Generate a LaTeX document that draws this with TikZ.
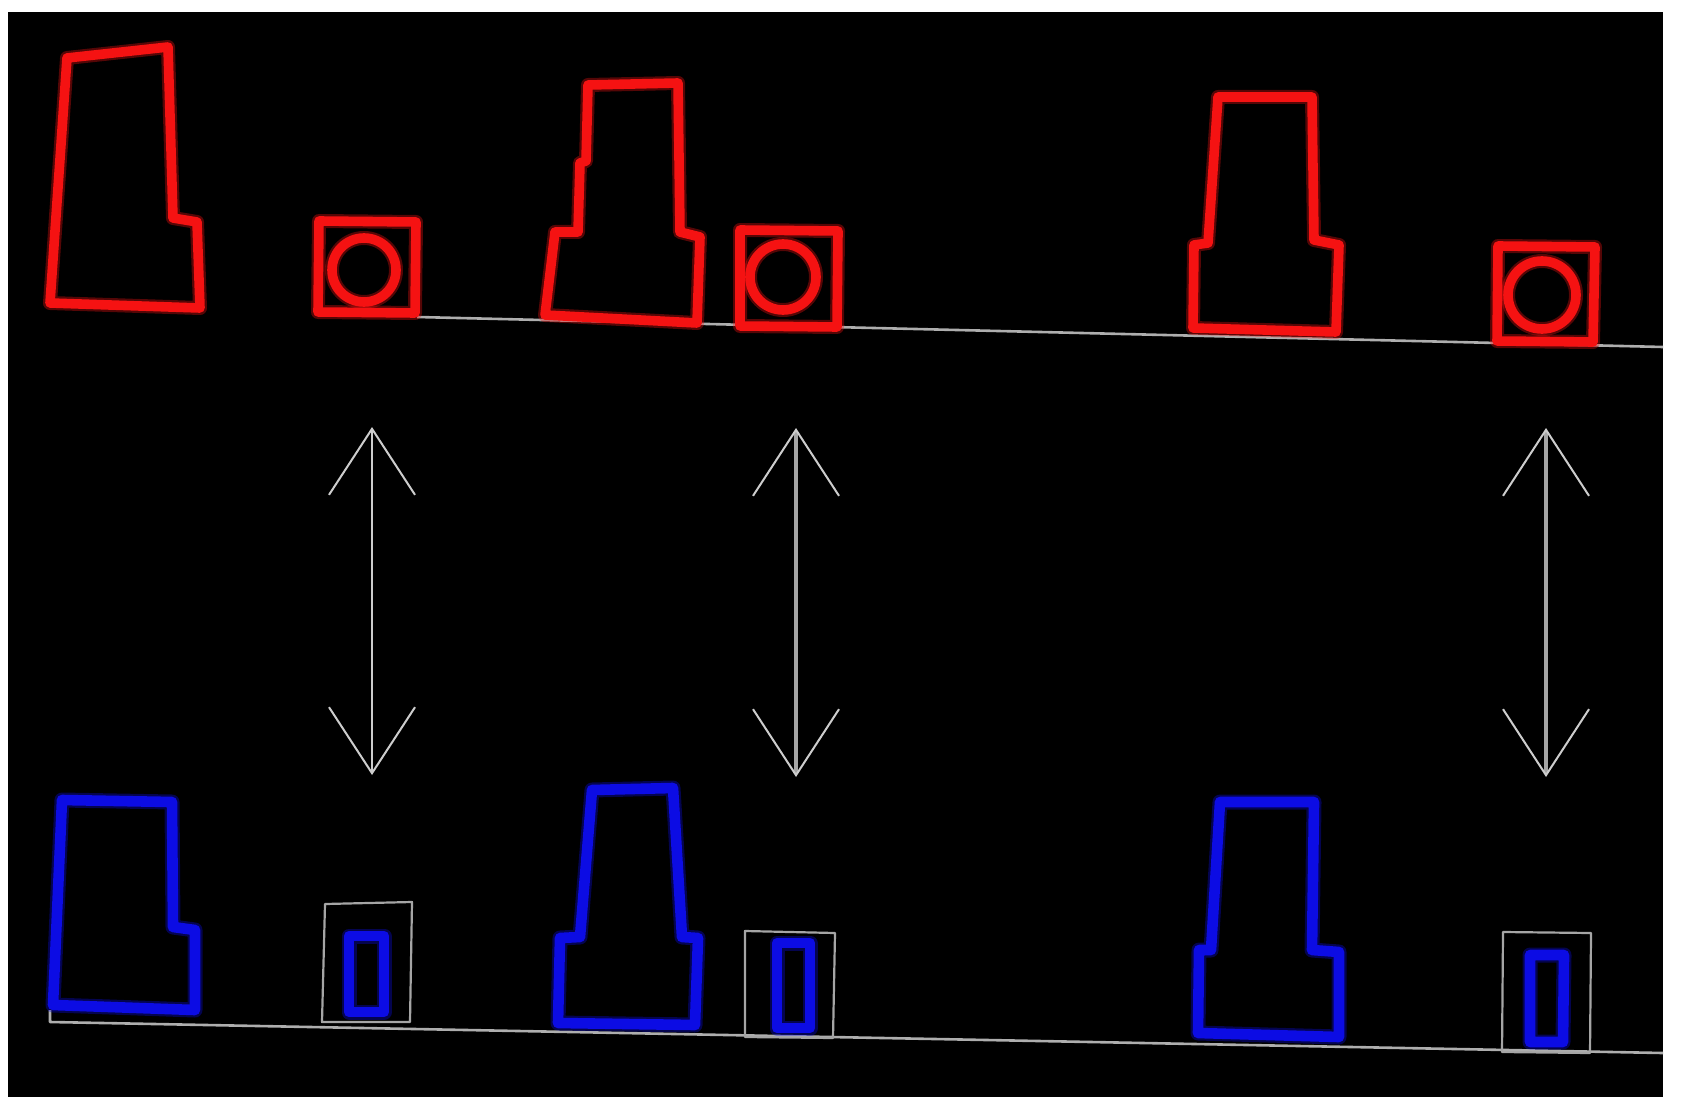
\documentclass[tikz,border=0pt]{standalone}
\usetikzlibrary{arrows.meta}
\definecolor{shred}{RGB}{245,18,18}
\definecolor{shblue}{RGB}{12,12,228}
\definecolor{lgray}{RGB}{205,205,205}
\definecolor{mgray}{RGB}{165,165,165}
\begin{document}
\begin{tikzpicture}[x=0.5pt,y=-0.5pt,line join=round,
  redshape/.style={preaction={draw=shred,line width=7pt,opacity=0.35},draw=shred,line width=4.8pt},
  blueshape/.style={preaction={draw=shblue,line width=7.5pt,opacity=0.35},draw=shblue,line width=5.3pt},
  graybox/.style={draw=mgray,line width=1.1pt},
  baseline/.style={draw=lgray!85!black,line width=1.3pt},
  dblarrow/.style={draw=lgray,line width=1pt,
    {Straight Barb[length=33pt,width=43pt,line width=1pt]}-{Straight Barb[length=33pt,width=43pt,line width=1pt]}},
  dblarrowthick/.style={draw=mgray,line width=1.7pt,
    {Straight Barb[length=33pt,width=43pt,line width=1pt,color=lgray]}-{Straight Barb[length=33pt,width=43pt,line width=1pt,color=lgray]}}]
\useasboundingbox (0,0) rectangle (1684,1117);
\fill[white] (0,0) rectangle (1684,1117);
\fill[black] (8,12) rectangle (1663,1097);

% baselines
\coordinate (tb0) at (417,317);
\coordinate (tb1) at (1663,347);
\draw[baseline] (tb0) -- (tb1);
\coordinate (bt0) at (50,1010);
\coordinate (bb0) at (50,1022);
\coordinate (bb1) at (1663,1053);
\draw[baseline] (bt0) -- (bb0) -- (bb1);

% top row (red)
\draw[redshape] (67,58) -- (168,47) -- (173,218) -- (197,222) -- (200,308) -- (50,303) -- cycle;
\draw[redshape] (319,221) -- (416,222) -- (415,313) -- (318,312) -- cycle;
\draw[redshape] (364,270) circle[radius=32];

\draw[redshape] (588,85) -- (678,83) -- (680,232) -- (700,237) -- (697,323) -- (545,315) -- (555,232) -- (578,232) -- (580,163) -- (586,161) -- cycle;
\draw[redshape] (740,230) -- (838,231) -- (837,327) -- (740,326) -- cycle;
\draw[redshape] (783,277) circle[radius=33];

\draw[redshape] (1218,97) -- (1312,97) -- (1314,240) -- (1339,245) -- (1336,332) -- (1193,328) -- (1194,245) -- (1208,243) -- cycle;
\draw[redshape] (1498,246) -- (1595,247) -- (1593,342) -- (1497,341) -- cycle;
\draw[redshape] (1542,295) circle[radius=34];

% bottom row (blue)
\draw[blueshape] (62,800) -- (172,802) -- (173,927) -- (195,930) -- (195,1010) -- (53,1005) -- cycle;
\draw[graybox] (325,904) -- (412,902) -- (410,1022) -- (322,1022) -- cycle;
\draw[blueshape] (349,936) -- (384,936) -- (384,1012) -- (349,1012) -- cycle;

\draw[blueshape] (592,790) -- (673,788) -- (682,937) -- (698,938) -- (695,1025) -- (558,1023) -- (560,938) -- (580,937) -- cycle;
\draw[graybox] (745,931) -- (835,933) -- (833,1038) -- (745,1037) -- cycle;
\draw[blueshape] (777,943) -- (810,943) -- (810,1028) -- (777,1028) -- cycle;

\draw[blueshape] (1220,802) -- (1314,802) -- (1312,950) -- (1339,952) -- (1339,1037) -- (1198,1033) -- (1199,950) -- (1211,950) -- cycle;
\draw[graybox] (1503,932) -- (1591,933) -- (1590,1053) -- (1502,1052) -- cycle;
\draw[blueshape] (1530,955) -- (1564,955) -- (1563,1042) -- (1530,1042) -- cycle;

% double arrows
\coordinate (a1t) at (372,427);
\coordinate (a1b) at (372,775);
\coordinate (a2t) at (796,428);
\coordinate (a2b) at (796,777);
\coordinate (a3t) at (1546,428);
\coordinate (a3b) at (1546,777);
\draw[dblarrow] (a1t) -- (a1b);
\draw[dblarrowthick] (a2t) -- (a2b);
\draw[dblarrowthick] (a3t) -- (a3b);
\end{tikzpicture}
\end{document}
